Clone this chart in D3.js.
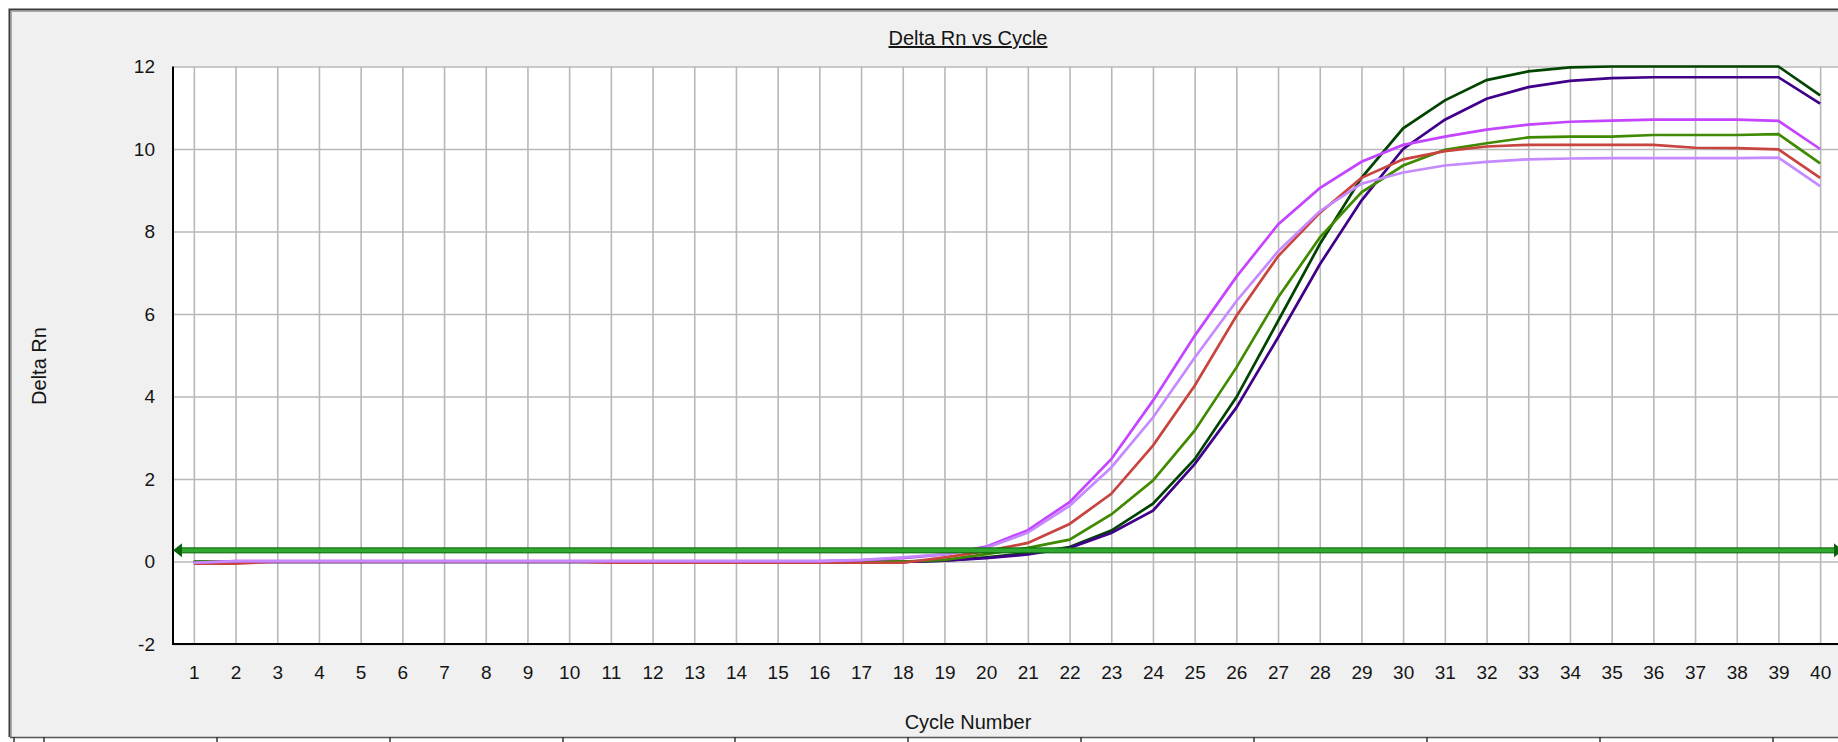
<!DOCTYPE html>
<html>
<head>
<meta charset="utf-8">
<script src="https://cdn.jsdelivr.net/npm/d3@7"></script>
<style>
    html, body { margin: 0; padding: 0; background: #ffffff; }
    svg { display: block; font-family: "Liberation Sans", Arial, sans-serif; }
</style>
</head>
<body>
<svg id="chart" width="1838" height="742"></svg>
<script>
// Données du graphique
const cycles = [1, 2, 3, 4, 5, 6, 7, 8, 9, 10, 11, 12, 13, 14, 15, 16, 17, 18, 19, 20,
    21, 22, 23, 24, 25, 26, 27, 28, 29, 30, 31, 32, 33, 34, 35, 36, 37, 38, 39, 40];

const yTicks = [-2, 0, 2, 4, 6, 8, 10, 12];

const threshold = 0.27;

const darkGreenRn = [-0.01, -0.01, -0.01, -0.01, -0.01, -0.01, -0.01, -0.01, -0.01, -0.01,
    -0.01, -0.01, -0.01, -0.01, -0.01, -0.01, -0.01, -0.01, 0.02, 0.10,
    0.20, 0.35, 0.75, 1.40, 2.48, 3.98, 5.83, 7.69, 9.30, 10.50,
    11.18, 11.67, 11.88, 11.98, 12.00, 12.00, 12.00, 12.00, 12.00, 11.30];

const indigoRn = [-0.01, -0.01, -0.01, -0.01, -0.01, -0.01, -0.01, -0.01, -0.01, -0.01,
    -0.01, -0.01, -0.01, -0.01, -0.01, -0.01, -0.01, -0.01, 0.02, 0.08,
    0.17, 0.33, 0.69, 1.23, 2.36, 3.73, 5.43, 7.20, 8.75, 10.00,
    10.71, 11.22, 11.50, 11.65, 11.72, 11.74, 11.74, 11.74, 11.74, 11.10];

const oliveRn = [0.00, 0.00, 0.00, 0.00, 0.00, 0.00, 0.00, 0.00, 0.00, 0.00,
    0.00, 0.00, 0.00, 0.00, 0.00, 0.00, 0.00, 0.00, 0.04, 0.18,
    0.33, 0.53, 1.14, 1.96, 3.17, 4.70, 6.40, 7.85, 8.95, 9.60,
    9.98, 10.14, 10.28, 10.30, 10.30, 10.34, 10.34, 10.34, 10.36, 9.65];

const redRn = [-0.05, -0.05, 0.00, 0.00, 0.00, 0.00, 0.00, 0.00, 0.00, 0.00,
    -0.03, -0.03, -0.03, -0.03, -0.03, -0.03, -0.03, -0.03, 0.10, 0.25,
    0.45, 0.91, 1.64, 2.81, 4.26, 5.95, 7.40, 8.45, 9.30, 9.75,
    9.95, 10.06, 10.10, 10.10, 10.10, 10.10, 10.03, 10.02, 9.99, 9.30];

const purpleRn = [-0.03, 0.01, 0.01, 0.01, 0.01, 0.01, 0.01, 0.01, 0.01, 0.01,
    0.01, 0.01, 0.01, 0.01, 0.01, 0.01, 0.03, 0.08, 0.17, 0.36,
    0.76, 1.44, 2.48, 3.90, 5.47, 6.90, 8.17, 9.05, 9.69, 10.10,
    10.30, 10.47, 10.59, 10.66, 10.69, 10.71, 10.71, 10.71, 10.68, 10.00];

const lavenderRn = [-0.03, 0.01, 0.01, 0.01, 0.01, 0.01, 0.01, 0.01, 0.01, 0.01,
    0.01, 0.01, 0.01, 0.01, 0.01, 0.01, 0.04, 0.10, 0.18, 0.33,
    0.70, 1.35, 2.28, 3.49, 4.94, 6.31, 7.52, 8.49, 9.16, 9.43,
    9.60, 9.69, 9.75, 9.77, 9.78, 9.78, 9.78, 9.78, 9.79, 9.10];

// Séries dans l'ordre de dessin
const series = [
    { values: darkGreenRn, color: '#004400' },
    { values: indigoRn, color: '#40008a' },
    { values: oliveRn, color: '#3f8a00' },
    { values: redRn, color: '#c8453f' },
    { values: purpleRn, color: '#c444ff' },
    { values: lavenderRn, color: '#c58aff' }
];

const svg = d3.select('#chart');
const width = +svg.attr('width');
const height = +svg.attr('height');
const margin = { top: 66.5, left: 173, bottom: 98 };
const plotRight = 1841;
const plotBottom = height - margin.bottom;

const x = d3.scaleLinear().domain([0.5, 40.5]).range([margin.left, plotRight]);
const y = d3.scaleLinear().domain([-2, 12]).range([plotBottom, margin.top]);

// Cadre de la fenêtre
svg.append('rect')
    .attr('x', 9).attr('y', 9)
    .attr('width', width).attr('height', 728)
    .attr('fill', '#f0f0f0');
svg.append('path')
    .attr('d', `M9.5,737V9.5H${width}`)
    .attr('fill', 'none').attr('stroke', '#3a3a3a').attr('stroke-width', 2);
svg.append('path')
    .attr('d', `M11.5,737V11.5H${width}`)
    .attr('fill', 'none').attr('stroke', '#a8a8a8').attr('stroke-width', 1);

// Zone du graphique
svg.append('rect')
    .attr('x', margin.left).attr('y', margin.top)
    .attr('width', plotRight - margin.left).attr('height', plotBottom - margin.top)
    .attr('fill', '#ffffff');

// Axe X avec grille
const xAxis = svg.append('g')
    .attr('transform', `translate(0,${plotBottom})`)
    .call(d3.axisBottom(x).tickValues(cycles).tickFormat(d => String(d))
        .tickSize(-(plotBottom - margin.top)).tickPadding(22));

// Axe Y avec grille (tiret simple pour les négatifs, comme l'original)
const yAxis = svg.append('g')
    .attr('transform', `translate(${margin.left},0)`)
    .call(d3.axisLeft(y).tickValues(yTicks).tickFormat(d => String(d))
        .tickSize(-(plotRight - margin.left)).tickPadding(18));

[xAxis, yAxis].forEach(g => {
    g.select('.domain').remove();
    g.selectAll('.tick line')
        .attr('stroke', '#b8b8b8')
        .attr('stroke-width', 1.6);
    g.selectAll('.tick text')
        .attr('fill', '#151515')
        .style('font-size', '19px');
});

// Axes noirs (gauche et bas)
svg.append('line')
    .attr('x1', margin.left).attr('x2', margin.left)
    .attr('y1', margin.top).attr('y2', plotBottom + 1)
    .attr('stroke', '#000').attr('stroke-width', 2);
svg.append('line')
    .attr('x1', margin.left).attr('x2', width)
    .attr('y1', plotBottom).attr('y2', plotBottom)
    .attr('stroke', '#000').attr('stroke-width', 2);

// Courbes
const line = d3.line()
    .x((d, i) => x(cycles[i]))
    .y(d => y(d));

svg.selectAll('.curve')
    .data(series)
    .enter().append('path')
    .attr('class', 'curve')
    .attr('d', d => line(d.values))
    .attr('fill', 'none')
    .attr('stroke', d => d.color)
    .attr('stroke-width', 2.7);

// Ligne de seuil avec flèches
const ty = y(threshold);
svg.append('rect')
    .attr('x', margin.left + 6).attr('y', ty - 2.5)
    .attr('width', width - margin.left - 6).attr('height', 5)
    .attr('fill', '#2ea82e').attr('stroke', '#0b640b').attr('stroke-width', 1);
svg.append('path')
    .attr('d', `M${margin.left},${ty}L${margin.left + 9},${ty - 7}L${margin.left + 9},${ty + 7}Z`)
    .attr('fill', '#0b640b');
svg.append('path')
    .attr('d', `M${plotRight + 2},${ty}L${plotRight - 7},${ty - 7}L${plotRight - 7},${ty + 7}Z`)
    .attr('fill', '#0b640b');

// Titres
svg.append('text')
    .attr('x', 968).attr('y', 45)
    .attr('text-anchor', 'middle')
    .attr('fill', '#151515')
    .style('font-size', '20px')
    .style('text-decoration', 'underline')
    .text('Delta Rn vs Cycle');

svg.append('text')
    .attr('x', 968).attr('y', 729)
    .attr('text-anchor', 'middle')
    .attr('fill', '#151515')
    .style('font-size', '20px')
    .text('Cycle Number');

svg.append('text')
    .attr('transform', 'translate(46,366) rotate(-90)')
    .attr('text-anchor', 'middle')
    .attr('fill', '#151515')
    .style('font-size', '20px')
    .text('Delta Rn');

// Bas de la fenêtre (en-têtes du tableau)
svg.append('line')
    .attr('x1', 10).attr('x2', width)
    .attr('y1', 737.5).attr('y2', 737.5)
    .attr('stroke', '#555').attr('stroke-width', 1.5);
const tabTicks = [14, 44, 217, 390, 563, 735, 908, 1081, 1254, 1427, 1600, 1773];
svg.selectAll('.tab')
    .data(tabTicks)
    .enter().append('line')
    .attr('class', 'tab')
    .attr('x1', d => d).attr('x2', d => d)
    .attr('y1', 737).attr('y2', height)
    .attr('stroke', '#333').attr('stroke-width', 1.5);
</script>
</body>
</html>
